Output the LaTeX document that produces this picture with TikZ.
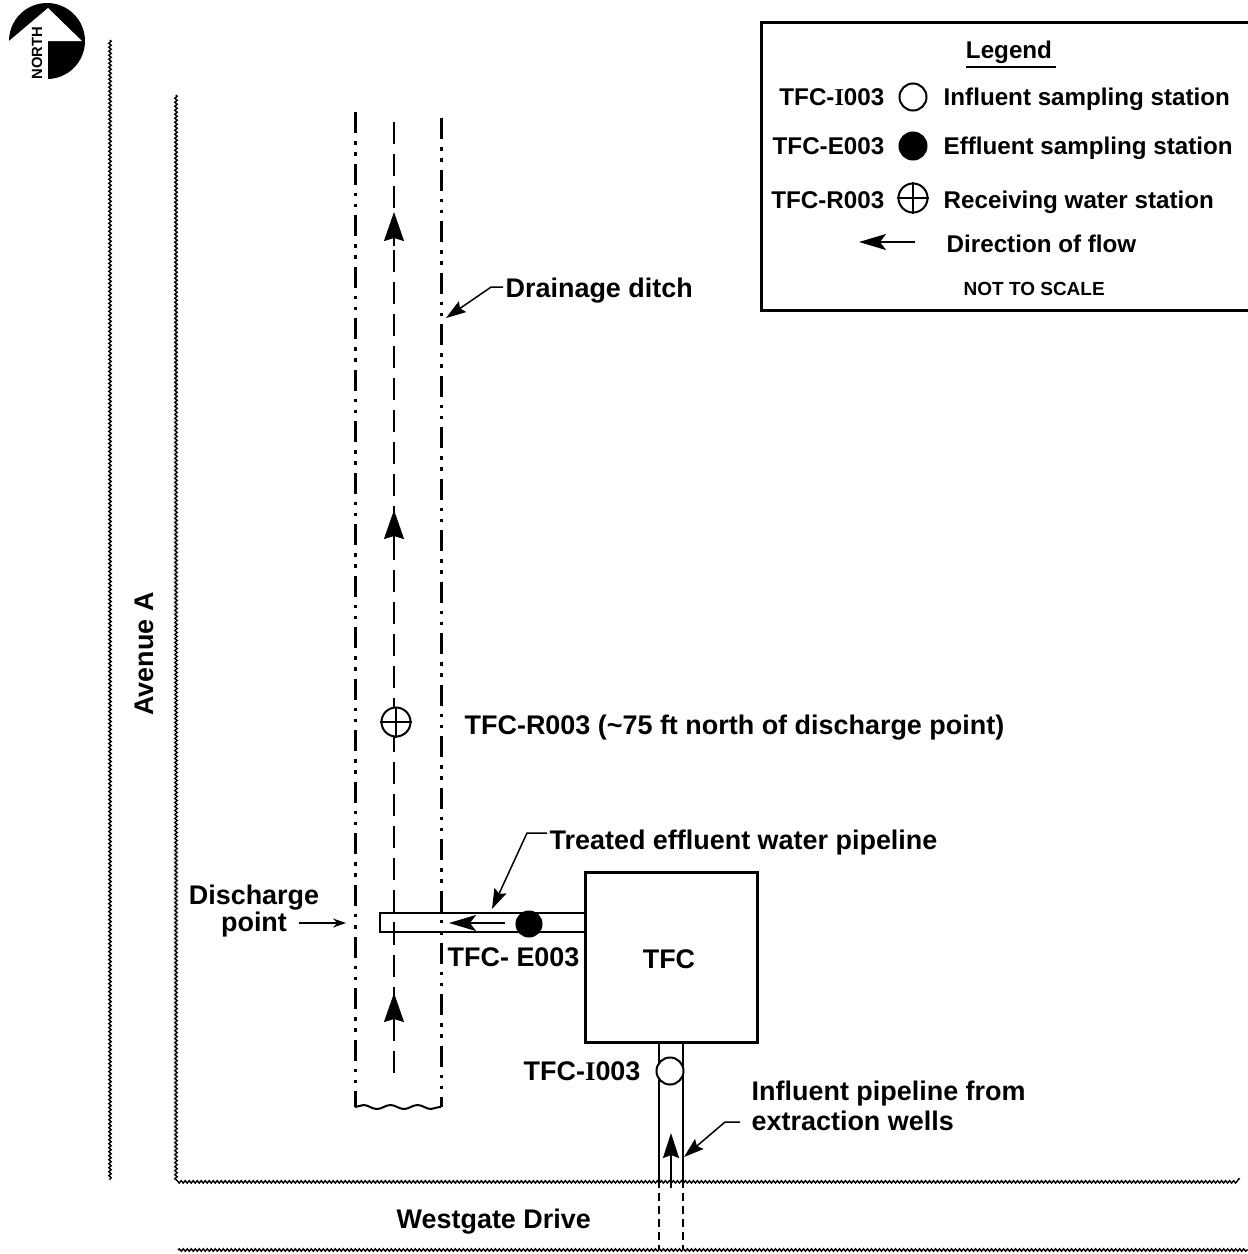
\documentclass[tikz,border=0pt]{standalone}
\usepackage{fontspec}
\setmainfont{Liberation Sans}
\newfontfamily\serifI{Liberation Serif}
\usetikzlibrary{arrows.meta,decorations.pathmorphing}
\newcommand{\lblfont}{\bfseries\fontsize{7.66}{9}\selectfont}
\newcommand{\keyfont}{\bfseries\fontsize{6.88}{9}\selectfont}
\newcommand{\barI}{{\serifI I}}
\tikzset{
  lbl/.style={inner sep=0pt,anchor=base west},
  lblr/.style={inner sep=0pt,anchor=base east},
  road/.style={line width=0.4pt,decorate,decoration={snake,segment length=0.04cm,amplitude=0.012cm}},
  ditch/.style={line width=0.032cm,dash pattern=on 0.21cm off 0.08cm on 0.035cm off 0.075cm on 0.035cm off 0.08cm},
  center line/.style={line width=0.02cm,dash pattern=on 0.22cm off 0.10cm},
  pipe/.style={line width=0.025cm},
  station/.style={circle,draw,line width=0.02cm,minimum size=0.27cm,inner sep=0pt,fill=white},
  flowtip/.style={line width=0.015cm,-{Stealth[length=0.29cm,width=0.2cm,inset=0.03cm]}},
  smalltip/.style={line width=0.02cm,-{Stealth[length=0.27cm,width=0.16cm,inset=0.06cm]}},
  leader/.style={line width=0.015cm,-{Stealth[length=0.2cm,width=0.13cm,inset=0.03cm]}}
}
\begin{document}
\begin{tikzpicture}[x=0.01cm,y=-0.01cm,font=\lblfont]
  \useasboundingbox (0,0) rectangle (1248,1254);
  % north sign
  \fill (47,41) circle (38);
  \fill[white] (4,41) rectangle (48,84);
  \fill[white] (4,41) -- (9,41) -- (48,8) -- (82,41) -- cycle;
  \node[inner sep=0pt,rotate=90,font=\bfseries\fontsize{4.2}{5}\selectfont] (north) at (37,53) {NORTH};
  % roads
  \draw[road] (110,40) -- (110,1180);
  \draw[road] (176,95) -- (176,1179) -- (1240,1179);
  \draw[road] (178,1250) -- (1248,1250);
  \node[lbl,anchor=base,rotate=90] (avenue) at (153,654) {Avenue A};
  \node[lbl] (westgate) at (396,1228) {Westgate Drive};
  % drainage ditch
  \draw[ditch] (355.4,112) -- (355.4,1107);
  \draw[ditch] (441.4,118) -- (441.4,1107);
  \draw[center line] (394,122) -- (394,1078);
  \draw[line width=0.02cm,decorate,decoration={snake,segment length=0.27cm,amplitude=0.02cm}] (355,1107) -- (441,1107);
  % flow in the ditch
  \foreach \y in {212,510,993}{
    \draw[flowtip] (394,\y+34) -- (394,\y);
  }
  \node[lbl] (ditchlabel) at (505,297) {Drainage ditch};
  \coordinate (ditchpoint) at (446,318);
  \draw[leader] (ditchlabel.west) ++(-2,-3) -- ++(-12,0) -- (ditchpoint);
  % receiving water station
  \node[station,minimum size=0.29cm] (receiving) at (396,722) {};
  \draw[line width=0.02cm] (receiving.north) -- (receiving.south);
  \draw[line width=0.02cm] (receiving.west) -- (receiving.east);
  \node[lbl] (receivinglabel) at (464,734) {TFC-R003 (\textasciitilde 75 ft north of discharge point)};
  % TFC
  \node[draw,line width=0.03cm,minimum width=1.71cm,minimum height=1.69cm,inner sep=0pt] (tfc) at (671.5,957.5) {};
  \node[lbl,anchor=base] (tfclabel) at (669,968) {TFC};
  % effluent pipe
  \coordinate (pipetop) at (586,913);
  \coordinate (pipebottom) at (586,932);
  \draw[pipe] (pipetop) -- (380,913) -- (380,932) -- (pipebottom);
  \coordinate (flowtail) at (505,923);
  \coordinate (flowhead) at (449,923);
  \draw[smalltip] (flowtail) -- (flowhead);
  \node[circle,fill,minimum size=0.27cm,inner sep=0pt] (effluent) at (529,924) {};
  \node[lbl] (effluentlabel) at (447,966) {TFC- E003};
  \node[lbl] (pipelabel) at (549,849) {Treated effluent water pipeline};
  \coordinate (pipepoint) at (492,909);
  \draw[leader] (pipelabel.west) ++(-2,-9) -- ++(-20,0) -- (pipepoint);
  \node[inner sep=0pt,align=center,font={\bfseries\fontsize{7.66}{7.65}\selectfont}] (discharge) at (254,911) {Discharge\\point};
  \coordinate (dischargepoint) at (346,923);
  \draw[line width=0.015cm,-{Stealth[length=0.13cm,width=0.09cm]}] (299,923) -- (dischargepoint);
  % influent pipe
  \draw[pipe] (659,1042) -- (659,1180);
  \draw[pipe] (683,1042) -- (683,1180);
  \draw[pipe,dashed,dash pattern=on 0.08cm off 0.05cm] (659,1180) -- (659,1250);
  \draw[pipe,dashed,dash pattern=on 0.08cm off 0.05cm] (683,1180) -- (683,1250);
  \draw[line width=0.02cm,-{Stealth[length=0.25cm,width=0.16cm,inset=0.03cm]}] (671,1188) -- (671,1133);
  \node[station] (influent) at (670,1071) {};
  \node[lbl] (influentlabel) at (523,1080) {TFC-\barI003};
  \node[lbl,anchor=west,align=left,font={\bfseries\fontsize{7.66}{8.5}\selectfont}] (wellslabel) at (751,1106) {Influent pipeline from\\extraction wells};
  \coordinate (wellspoint) at (684,1157);
  \draw[leader] (wellslabel.west) ++(-11,16) -- ++(-15,0) -- (wellspoint);
  % legend
  \draw[line width=0.03cm] (1248,22) -- (761,22) -- (761,310) -- (1248,310);
  \node[lbl,anchor=base,font=\keyfont] (legend) at (1009,58) {Legend};
  \draw[line width=0.02cm] (966,67) -- (1056,67);
  \node[lblr,font=\keyfont] (keyI) at (885,105) {TFC-\barI003};
  \node[station] (keyIdot) at (913,97) {};
  \node[lbl,font=\keyfont] (keyItext) at (943,105) {Influent sampling station};
  \node[lblr,font=\keyfont] (keyE) at (885,154) {TFC-E003};
  \node[station,fill=black] (keyEdot) at (913,146) {};
  \node[lbl,font=\keyfont] (keyEtext) at (943,154) {Effluent sampling station};
  \node[lblr,font=\keyfont] (keyR) at (885,208) {TFC-R003};
  \node[station,minimum size=0.29cm] (keyRdot) at (913,198) {};
  \draw[line width=0.02cm] (keyRdot.north) -- (keyRdot.south);
  \draw[line width=0.02cm] (keyRdot.west) -- (keyRdot.east);
  \node[lbl,font=\keyfont] (keyRtext) at (943,208) {Receiving water station};
  \coordinate (keytail) at (915,242);
  \coordinate (keyhead) at (859,242);
  \draw[smalltip] (keytail) -- (keyhead);
  \node[lbl,font=\keyfont] (keyflow) at (946,252) {Direction of flow};
  \node[lbl,font=\bfseries\fontsize{5.4}{7}\selectfont] (scale) at (963,295) {NOT TO SCALE};
\end{tikzpicture}
\end{document}
